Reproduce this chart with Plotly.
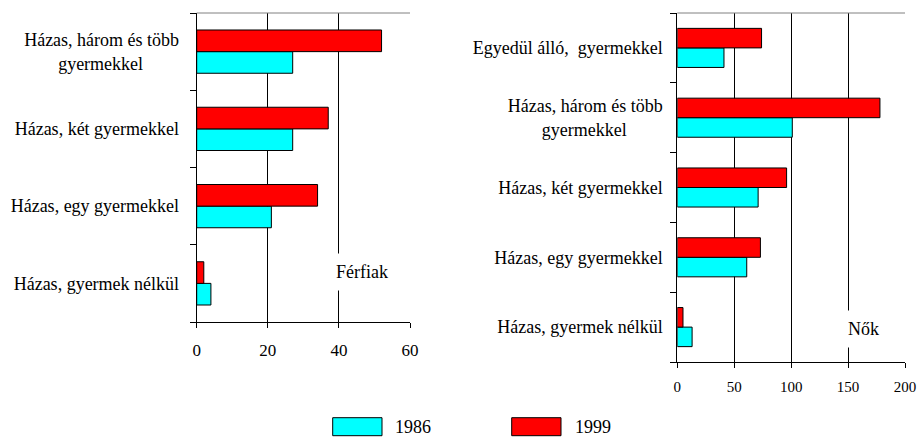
import plotly.graph_objects as go

W, H = 918, 437
NB = "\u00a0"

# Men (Férfiak)
men_cats = ["Házas, gyermek nélkül", "Házas, egy gyermekkel", "Házas, két gyermekkel",
            "Házas, három és több<br>gyermekkel" + NB * 8]
men_1986 = [4, 21, 27, 27]
men_1999 = [2, 34, 37, 52]

# Women (Nők)
women_cats = ["Házas, gyermek nélkül", "Házas, egy gyermekkel", "Házas, két gyermekkel",
              "Házas, három és több<br>gyermekkel" + NB * 8, "Egyedül álló," + NB + " gyermekkel"]
women_1986 = [13, 61, 71, 101, 41]
women_1999 = [5, 73, 96, 178, 74]

men_ticks = [0, 20, 40, 60]
women_ticks = [0, 50, 100, 150, 200]
series_names = ["1986", "1999"]
colors = ["#00FFFF", "#FF0000"]

FONT = "Liberation Serif, Times New Roman, Times, serif"

def px(x):
    return x / W

def py(y):
    return 1 - y / H

fig = go.Figure()
bar_line = dict(color="black", width=1)
fig.add_trace(go.Bar(y=men_cats, x=men_1986, orientation="h", name=series_names[0],
                     marker=dict(color=colors[0], line=bar_line), xaxis="x", yaxis="y"))
fig.add_trace(go.Bar(y=men_cats, x=men_1999, orientation="h", name=series_names[1],
                     marker=dict(color=colors[1], line=bar_line), xaxis="x", yaxis="y"))
fig.add_trace(go.Bar(y=women_cats, x=women_1986, orientation="h", name=series_names[0],
                     marker=dict(color=colors[0], line=bar_line), xaxis="x2", yaxis="y2"))
fig.add_trace(go.Bar(y=women_cats, x=women_1999, orientation="h", name=series_names[1],
                     marker=dict(color=colors[1], line=bar_line), xaxis="x2", yaxis="y2"))

common_x = dict(showgrid=True, gridcolor="black", gridwidth=1, zeroline=False,
                showline=True, linecolor="black", linewidth=1, ticks="outside",
                tickcolor="black", ticklen=5, automargin=False)
common_y = dict(type="category", showgrid=False, zeroline=False, showline=True,
                linecolor="black", linewidth=1, ticks="outside", tickson="boundaries",
                tickcolor="black", ticklen=6, automargin=False,
                tickfont=dict(family=FONT, size=18, color="black"))

fig.update_layout(
    width=W, height=H,
    margin=dict(l=0, r=0, t=0, b=0),
    paper_bgcolor="white", plot_bgcolor="white",
    barmode="group", bargap=0.44, bargroupgap=0,
    showlegend=False,
    font=dict(family=FONT, color="black"),
    xaxis=dict(domain=[px(196.7), px(410)], anchor="y", range=[0, 60], tickvals=men_ticks,
               tickfont=dict(family=FONT, size=17, color="black"), ticklabelstandoff=8, **common_x),
    yaxis=dict(domain=[py(322), py(13)], anchor="x", ticklabelstandoff=13, **common_y),
    xaxis2=dict(domain=[px(677.3), px(905)], anchor="y2", range=[0, 200], tickvals=women_ticks,
                tickfont=dict(family=FONT, size=15, color="black"), ticklabelstandoff=6, **common_x),
    yaxis2=dict(domain=[py(362), py(13)], anchor="x2", ticklabelstandoff=10, **common_y),
)

shapes = []
for xr, yr in (("x domain", "y domain"), ("x2 domain", "y2 domain")):
    shapes.append(dict(type="line", xref=xr, yref=yr, x0=0, x1=1, y0=1, y1=1,
                       line=dict(color="#808080", width=1)))
# legend boxes
shapes.append(dict(type="rect", xref="paper", yref="paper", x0=px(332.7), x1=px(382),
                   y0=py(435.7), y1=py(417.7), fillcolor=colors[0], line=dict(color="black", width=1)))
shapes.append(dict(type="rect", xref="paper", yref="paper", x0=px(511.7), x1=px(561),
                   y0=py(435.7), y1=py(417.7), fillcolor=colors[1], line=dict(color="black", width=1)))
fig.update_layout(shapes=shapes)

annots = [
    dict(text="Férfiak", x=px(362), y=py(272), xref="paper", yref="paper", showarrow=False,
         xanchor="center", yanchor="middle",
         bgcolor="white", borderpad=8, font=dict(family=FONT, size=18, color="black")),
    dict(text="Nők", x=px(863), y=py(329), xref="paper", yref="paper", showarrow=False,
         xanchor="center", yanchor="middle",
         bgcolor="white", borderpad=8, font=dict(family=FONT, size=18, color="black")),
    dict(text=series_names[0], x=px(392.7), y=py(426.7), xref="paper", yref="paper", showarrow=False,
         xanchor="left", yanchor="middle", font=dict(family=FONT, size=18, color="black")),
    dict(text=series_names[1], x=px(572.7), y=py(426.7), xref="paper", yref="paper", showarrow=False,
         xanchor="left", yanchor="middle", font=dict(family=FONT, size=18, color="black")),
]
fig.update_layout(annotations=annots)

fig.write_html("out.html", config={"displayModeBar": False},
               post_script="document.body.style.margin='0';document.body.style.overflow='hidden';")
